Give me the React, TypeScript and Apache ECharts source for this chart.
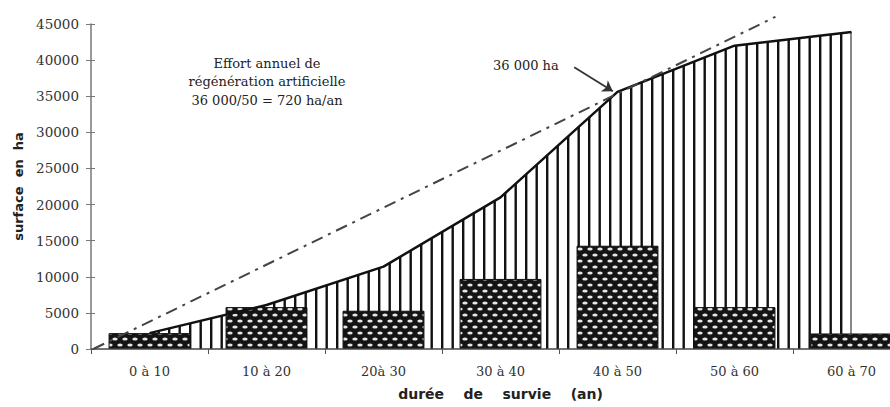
import React, { useEffect, useRef } from "react";
import * as echarts from "echarts";

const categories = ["0 à 10", "10 à 20", "20à 30", "30 à 40", "40 à 50", "50 à 60", "60 à 70"];
const barValues = [2200, 5800, 5300, 9700, 14300, 5800, 2150];
const cumulativeValues = [2200, 6100, 11400, 21000, 35600, 42000, 43900];
const trendPoints = [
  [0.02, 0],
  [5.85, 46000],
];
const arrowFrom = [4.13, 39000];
const arrowTo = [4.46, 35700];
const yMin = 0;
const yMax = 45000;
const yInterval = 5000;

const noteText = "Effort annuel de\nrégénération artificielle\n36 000/50 = 720 ha/an";
const arrowText = "36 000 ha";
const yTitle = "surface  en  ha";
const xTitle = "durée    de    survie    (an)";

function makeHatch(): HTMLCanvasElement {
  const c = document.createElement("canvas");
  c.width = 21;
  c.height = 4;
  const ctx = c.getContext("2d")!;
  ctx.fillStyle = "#ffffff";
  ctx.fillRect(0, 0, 21, 4);
  ctx.fillStyle = "#111111";
  ctx.fillRect(0, 0, 2.4, 4);
  ctx.fillRect(10.5, 0, 2.4, 4);
  return c;
}

function makeDots(): HTMLCanvasElement {
  const c = document.createElement("canvas");
  c.width = 10;
  c.height = 12;
  const ctx = c.getContext("2d")!;
  ctx.fillStyle = "#141414";
  ctx.fillRect(0, 0, 10, 12);
  ctx.fillStyle = "#e6e6e6";
  const ell = (x: number, y: number) => {
    ctx.beginPath();
    ctx.ellipse(x, y, 2.7, 1.5, 0, 0, Math.PI * 2);
    ctx.fill();
  };
  ell(5, 3);
  ell(0, 9);
  ell(10, 9);
  return c;
}

export default function App() {
  const ref = useRef<HTMLDivElement>(null);
  useEffect(() => {
    if (!ref.current) return;
    const chart = echarts.init(ref.current, undefined, { renderer: "svg" });
    const hatch = makeHatch();
    const dots = makeDots();
    const serif = "DejaVu Serif";
    const option: any = {
      animation: false,
      backgroundColor: "#ffffff",
      grid: { left: 91, right: 0, top: 24, bottom: 58, containLabel: false },
      xAxis: [
        {
          type: "category",
          data: categories,
          boundaryGap: true,
          axisLine: { lineStyle: { color: "#444", width: 1.5 } },
          axisTick: { show: true, length: 5, lineStyle: { color: "#555" } },
          axisLabel: { margin: 16, fontFamily: serif, fontSize: 13, color: "#333" },
          name: xTitle,
          nameLocation: "middle",
          nameGap: 38,
          nameTextStyle: { fontFamily: "DejaVu Sans", fontWeight: "bold", fontSize: 14, color: "#222" },
          z: 5,
        },
        {
          type: "value",
          min: 0,
          max: 7,
          show: false,
        },
      ],
      yAxis: [
        {
          type: "value",
          min: yMin,
          max: yMax,
          interval: yInterval,
          splitLine: { show: false },
          axisLine: { show: true, lineStyle: { color: "#777", width: 1.5 } },
          axisTick: { show: true, length: 5, lineStyle: { color: "#777" } },
          axisLabel: {
            margin: 12,
            fontFamily: serif,
            fontSize: 13.5,
            color: "#333",
            formatter: (v: number) => String(v),
          },
          name: yTitle,
          nameLocation: "middle",
          nameRotate: 90,
          nameGap: 66,
          nameTextStyle: { fontFamily: "DejaVu Sans", fontWeight: "bold", fontSize: 13, color: "#222" },
          z: 5,
        },
        {
          type: "value",
          min: yMin,
          max: yMax,
          interval: yInterval,
          position: "left",
          splitLine: { show: false },
          axisLine: { show: false },
          axisTick: { show: true, inside: true, length: 4, lineStyle: { color: "#777" } },
          axisLabel: { show: false },
        },
      ],
      series: [
        {
          type: "line",
          name: "cumul",
          xAxisIndex: 0,
          yAxisIndex: 0,
          data: cumulativeValues,
          symbol: "none",
          lineStyle: { width: 0 },
          areaStyle: { color: { image: hatch, repeat: "repeat" }, opacity: 1 },
          z: 1,
        },
        {
          type: "bar",
          name: "surface",
          xAxisIndex: 0,
          yAxisIndex: 0,
          data: barValues,
          barWidth: "70%",
          itemStyle: { color: { image: dots, repeat: "repeat" }, borderColor: "#111", borderWidth: 1 },
          z: 2,
        },
        {
          type: "line",
          name: "courbe",
          xAxisIndex: 0,
          yAxisIndex: 0,
          data: cumulativeValues,
          symbol: "none",
          lineStyle: { color: "#111", width: 2.5 },
          z: 3,
        },
        {
          type: "line",
          name: "tendance",
          xAxisIndex: 1,
          yAxisIndex: 0,
          data: trendPoints,
          symbol: "none",
          clip: false,
          lineStyle: { color: "#444", width: 2, type: [12, 6, 3, 6] },
          z: 4,
          markLine: {
            silent: true,
            symbol: ["none", "arrow"],
            symbolSize: 10,
            label: { show: false },
            lineStyle: { color: "#333", width: 1.8, type: "solid" },
            data: [[{ coord: arrowFrom }, { coord: arrowTo }]],
          },
        },
      ],
      graphic: [
        {
          type: "text",
          x: 267,
          y: 54,
          style: {
            text: noteText,
            textAlign: "center",
            textVerticalAlign: "top",
            font: "13px 'DejaVu Serif'",
            lineHeight: 18.5,
            fill: "#222",
          },
        },
        {
          type: "text",
          x: 493,
          y: 65,
          style: {
            text: arrowText,
            textAlign: "left",
            textVerticalAlign: "middle",
            font: "13px 'DejaVu Serif'",
            fill: "#222",
          },
        },
      ],
    };
    chart.setOption(option);
    return () => chart.dispose();
  }, []);
  return (
    <div
      style={{ position: "fixed", left: 0, top: 0, width: 890, height: 407, overflow: "hidden", background: "#fff" }}
    >
      <div ref={ref} style={{ width: 910, height: 407 }} />
    </div>
  );
}
